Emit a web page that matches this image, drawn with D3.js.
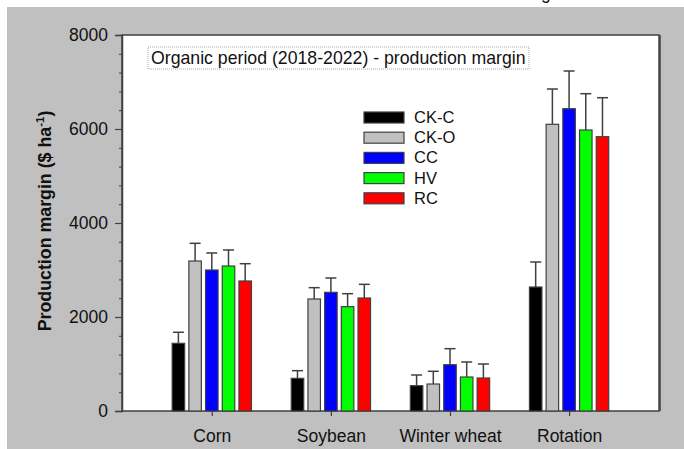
<!DOCTYPE html>
<html>
<head>
<meta charset="utf-8">
<script src="https://cdn.jsdelivr.net/npm/d3@7"></script>
<style>
  body { margin: 0; background: #fff; }
  text { font-family: "Liberation Sans", Arial, sans-serif; fill: #111; }
</style>
</head>
<body>
<svg id="chart"></svg>
<script>
const crops = ["Corn", "Soybean", "Winter wheat", "Rotation"];
const treatments = ["CK-C", "CK-O", "CC", "HV", "RC"];
const colors = ["#000000", "#c0c0c0", "#0000ff", "#00ff00", "#ff0000"];

// mean production margin per crop, one array per treatment
const ckC = [1440, 695, 539, 2638];
const ckO = [3191, 2383, 574, 6100];
const cc = [3000, 2525, 985, 6432];
const hv = [3085, 2220, 723, 5979];
const rc = [2766, 2404, 702, 5836];

// error bar (upper) lengths
const ckCErr = [235, 163, 227, 532];
const ckOErr = [377, 241, 271, 751];
const ccErr = [362, 305, 341, 802];
const hvErr = [341, 276, 320, 772];
const rcErr = [368, 291, 298, 830];

const yMajorTicks = [0, 2000, 4000, 6000, 8000];
const yMinorTicks = d3.range(0, 8001, 400);

const series = [ckC, ckO, cc, hv, rc];
const errors = [ckCErr, ckOErr, ccErr, hvErr, rcErr];

const data = [];
treatments.forEach((t, j) => {
    crops.forEach((c, i) => {
        data.push({ crop: c, ci: i, t: t, tj: j, value: series[j][i], err: errors[j][i] });
    });
});

const width = 684;
const height = 449;
const marginTop = 35;
const marginRight = 25;
const marginBottom = 38;
const marginLeft = 122;
const frame = "#404040";

const svg = d3.select("#chart")
    .attr("width", width)
    .attr("height", height);

// grey page behind the graph
svg.append("rect")
    .attr("x", 7).attr("y", 7)
    .attr("width", width - 7).attr("height", height - 7)
    .attr("fill", "#c0c0c0");

// fragment of heading above (cut off in the source)
svg.append("text")
    .attr("x", 541).attr("y", -1)
    .attr("font-size", 17.5)
    .text("g");

const x = d3.scaleLinear()
    .domain([-0.754, 3.755])
    .range([marginLeft, width - marginRight]);

const offset = d3.scaleLinear()
    .domain([0, treatments.length - 1])
    .range([-33.4, 33.4]);
const barW = 12.5;

const y = d3.scaleLinear()
    .domain([0, 8000])
    .range([height - marginBottom, marginTop]);

svg.append("rect")
    .attr("x", marginLeft).attr("y", marginTop)
    .attr("width", width - marginLeft - marginRight)
    .attr("height", height - marginTop - marginBottom)
    .attr("fill", "#fff")
    .attr("stroke", frame)
    .attr("stroke-width", 1.5);

// shadow on the right edge
svg.append("line")
    .attr("x1", width - marginRight + 1).attr("x2", width - marginRight + 1)
    .attr("y1", marginTop).attr("y2", height - marginBottom)
    .attr("stroke", frame)
    .attr("stroke-width", 1.5);

// title box
const title = svg.append("g");
title.append("rect")
    .attr("x", 148).attr("y", 47)
    .attr("width", 381).attr("height", 22)
    .attr("fill", "#fff")
    .attr("stroke", "#aaa")
    .attr("stroke-width", 1)
    .attr("stroke-dasharray", "1,1");
title.append("text")
    .attr("x", 151).attr("y", 64)
    .attr("font-size", 17.7)
    .text("Organic period (2018-2022) - production margin");

// bars
svg.append("g")
    .selectAll("rect")
    .data(data)
    .join("rect")
    .attr("x", d => x(d.ci) + offset(d.tj) - barW / 2)
    .attr("y", d => y(d.value))
    .attr("width", barW)
    .attr("height", d => y(0) - y(d.value))
    .attr("fill", d => colors[d.tj])
    .attr("stroke", frame)
    .attr("stroke-width", 1.2);

// error bars (upper only)
const eb = svg.append("g")
    .attr("stroke", frame)
    .attr("stroke-width", 1.5);
eb.selectAll("line.v")
    .data(data)
    .join("line")
    .attr("class", "v")
    .attr("x1", d => x(d.ci) + offset(d.tj))
    .attr("x2", d => x(d.ci) + offset(d.tj))
    .attr("y1", d => y(d.value))
    .attr("y2", d => y(d.value + d.err));
eb.selectAll("line.cap")
    .data(data)
    .join("line")
    .attr("class", "cap")
    .attr("x1", d => x(d.ci) + offset(d.tj) - 5.5)
    .attr("x2", d => x(d.ci) + offset(d.tj) + 5.5)
    .attr("y1", d => y(d.value + d.err))
    .attr("y2", d => y(d.value + d.err));

// y axis
svg.append("g")
    .attr("transform", `translate(${marginLeft},0)`)
    .call(d3.axisLeft(y).tickValues(yMinorTicks).tickSize(3).tickFormat(""))
    .call(g => g.select(".domain").remove())
    .call(g => g.selectAll("line").attr("stroke", frame));

svg.append("g")
    .attr("transform", `translate(${marginLeft},0)`)
    .call(d3.axisLeft(y).tickValues(yMajorTicks).tickSize(7).tickPadding(7).tickFormat(d3.format("d")))
    .call(g => g.select(".domain").attr("stroke", frame).attr("stroke-width", 1.5))
    .call(g => g.selectAll("line").attr("stroke", frame).attr("stroke-width", 1.2))
    .call(g => g.selectAll("text")
        .attr("font-size", 17.5)
        .attr("font-family", "Liberation Sans, Arial, sans-serif")
        .attr("fill", "#111"));

// x axis
svg.append("g")
    .attr("transform", `translate(0,${height - marginBottom})`)
    .call(d3.axisBottom(x).tickValues(d3.range(crops.length)).tickSize(5).tickPadding(14)
        .tickFormat(i => crops[i]))
    .call(g => g.select(".domain").remove())
    .call(g => g.selectAll("line").attr("stroke", frame).attr("stroke-width", 1.2))
    .call(g => g.selectAll("text")
        .attr("font-size", 17.5)
        .attr("font-family", "Liberation Sans, Arial, sans-serif")
        .attr("fill", "#111"));

// y axis title
const yt = svg.append("text")
    .attr("transform", `translate(51,${(marginTop + height - marginBottom) / 2 - 2}) rotate(-90)`)
    .attr("text-anchor", "middle")
    .attr("font-size", 17.8)
    .attr("font-weight", "bold");
yt.append("tspan").text("Production margin ($ ha");
yt.append("tspan").attr("dy", -7).attr("font-size", 11.5).text("-1");
yt.append("tspan").attr("dy", 7).text(")");

// legend
const legend = svg.append("g")
    .attr("transform", "translate(364,112)");
const row = legend.selectAll("g")
    .data(treatments)
    .join("g")
    .attr("transform", (d, j) => `translate(0,${j * 20.2})`);
row.append("rect")
    .attr("width", 40).attr("height", 11)
    .attr("fill", (d, j) => colors[j])
    .attr("stroke", frame)
    .attr("stroke-width", 1.2);
row.append("text")
    .attr("x", 50).attr("y", 11)
    .attr("font-size", 16.5)
    .text(d => d);
</script>
</body>
</html>
